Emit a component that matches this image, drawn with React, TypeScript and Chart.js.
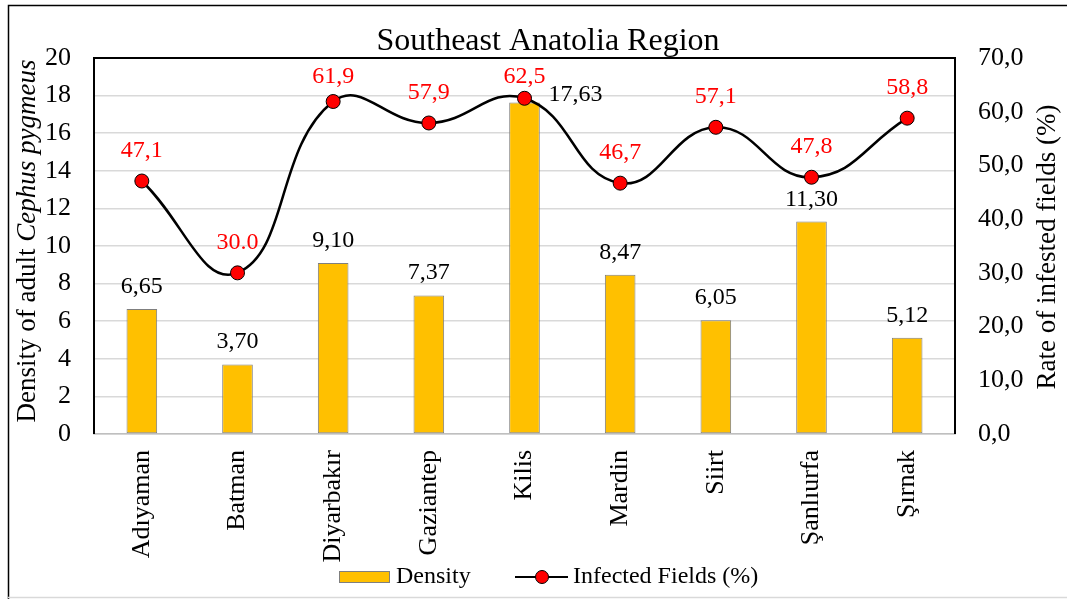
import React, { useEffect, useRef } from "react";
import { Chart, registerables } from "chart.js";

Chart.register(...registerables);

const categories = ["Adıyaman", "Batman", "Diyarbakır", "Gaziantep", "Kilis", "Mardin", "Siirt", "Şanlıurfa", "Şırnak"];
const density = [6.65, 3.7, 9.1, 7.37, 17.63, 8.47, 6.05, 11.3, 5.12];
const densityLabels = ["6,65", "3,70", "9,10", "7,37", "17,63", "8,47", "6,05", "11,30", "5,12"];
const infected = [47.1, 30.0, 61.9, 57.9, 62.5, 46.7, 57.1, 47.8, 58.8];
const infectedLabels = ["47,1", "30.0", "61,9", "57,9", "62,5", "46,7", "57,1", "47,8", "58,8"];
const leftTicksMax = 20;
const rightTicksMax = 70;

const FONT = "'Liberation Serif', 'Times New Roman', serif";

const decorPlugin = {
  id: "decor",
  afterDraw(chart: any) {
    const ctx = chart.ctx as CanvasRenderingContext2D;
    const ca = chart.chartArea;
    ctx.save();
    // outer border
    ctx.strokeStyle = "#000";
    ctx.lineWidth = 1.5;
    ctx.beginPath();
    ctx.moveTo(8.5, 599);
    ctx.lineTo(8.5, 5.5);
    ctx.lineTo(1067, 5.5);
    ctx.stroke();
    ctx.strokeStyle = "#d9d9d9";
    ctx.beginPath();
    ctx.moveTo(8, 597.5);
    ctx.lineTo(1067, 597.5);
    ctx.stroke();

    // plot frame (top, left, right)
    ctx.strokeStyle = "#000";
    ctx.lineWidth = 2;
    ctx.beginPath();
    ctx.moveTo(ca.left, ca.bottom);
    ctx.lineTo(ca.left, ca.top);
    ctx.lineTo(ca.right, ca.top);
    ctx.lineTo(ca.right, ca.bottom);
    ctx.stroke();

    // title
    ctx.fillStyle = "#000";
    ctx.font = `32px ${FONT}`;
    ctx.textAlign = "center";
    ctx.textBaseline = "alphabetic";
    ctx.fillText("Southeast Anatolia Region", 548, 50);

    // data labels
    const barMeta = chart.getDatasetMeta(1);
    const lineMeta = chart.getDatasetMeta(0);
    ctx.font = `24px ${FONT}`;
    barMeta.data.forEach((bar: any, i: number) => {
      const pt = lineMeta.data[i];
      ctx.fillStyle = "#000";
      if (Math.abs(pt.y - bar.y) < 30) {
        ctx.textAlign = "left";
        ctx.fillText(densityLabels[i], bar.x + 24, bar.y - 2);
      } else {
        ctx.textAlign = "center";
        ctx.fillText(densityLabels[i], bar.x, bar.y - 16);
      }
    });
    lineMeta.data.forEach((pt: any, i: number) => {
      ctx.fillStyle = "#ff0000";
      ctx.textAlign = "center";
      const centerY = Math.max(pt.y - 32, ca.top + 17);
      ctx.fillText(infectedLabels[i], pt.x, centerY + 8);
    });

    // left axis title (mixed style)
    ctx.fillStyle = "#000";
    ctx.textBaseline = "middle";
    ctx.save();
    ctx.translate(28, 241);
    ctx.rotate(-Math.PI / 2);
    const part1 = "Density of adult ";
    const part2 = "Cephus pygmeus";
    ctx.font = `27px ${FONT}`;
    const w1 = ctx.measureText(part1).width;
    ctx.font = `italic 27px ${FONT}`;
    const w2 = ctx.measureText(part2).width;
    const start = -(w1 + w2) / 2;
    ctx.textAlign = "left";
    ctx.font = `27px ${FONT}`;
    ctx.fillText(part1, start, 0);
    ctx.font = `italic 27px ${FONT}`;
    ctx.fillText(part2, start + w1, 0);
    ctx.restore();

    // right axis title
    ctx.save();
    ctx.translate(1048, 247);
    ctx.rotate(-Math.PI / 2);
    ctx.textAlign = "center";
    ctx.font = `27px ${FONT}`;
    ctx.fillText("Rate of infested fields (%)", 0, 0);
    ctx.restore();

    // legend
    const ly = 577;
    ctx.fillStyle = "#ffc000";
    ctx.strokeStyle = "#7f7f7f";
    ctx.lineWidth = 1;
    ctx.fillRect(339, ly - 6, 51, 12);
    ctx.strokeRect(339.5, ly - 5.5, 50, 11);
    ctx.fillStyle = "#000";
    ctx.textAlign = "left";
    ctx.font = `24px ${FONT}`;
    ctx.fillText("Density", 396, ly);
    ctx.strokeStyle = "#000";
    ctx.lineWidth = 2;
    ctx.beginPath();
    ctx.moveTo(515, ly);
    ctx.lineTo(568, ly);
    ctx.stroke();
    ctx.beginPath();
    ctx.arc(542, ly, 6.5, 0, Math.PI * 2);
    ctx.fillStyle = "#ff0000";
    ctx.fill();
    ctx.lineWidth = 1;
    ctx.stroke();
    ctx.fillStyle = "#000";
    ctx.fillText("Infected Fields (%)", 573, ly);
    ctx.restore();
  },
};

export default function App() {
  const ref = useRef<HTMLCanvasElement>(null);
  useEffect(() => {
    document.body.style.margin = "0";
    const chart = new Chart(ref.current as HTMLCanvasElement, {
      type: "bar",
      data: {
        labels: categories,
        datasets: [
          {
            type: "line",
            label: "Infected Fields (%)",
            data: infected,
            yAxisID: "y1",
            borderColor: "#000",
            borderWidth: 2.5,
            backgroundColor: "#ff0000",
            pointBackgroundColor: "#ff0000",
            pointBorderColor: "#000",
            pointBorderWidth: 1,
            pointRadius: 7,
            tension: 0.45,
            order: 0,
            clip: false,
          } as any,
          {
            type: "bar",
            label: "Density",
            data: density,
            yAxisID: "y",
            backgroundColor: "#ffc000",
            borderColor: "#7f7f7f",
            borderWidth: 1,
            borderSkipped: false,
            categoryPercentage: 1,
            barPercentage: 0.32,
            order: 1,
          } as any,
        ],
      },
      options: {
        responsive: false,
        animation: false,
        layout: { padding: { top: 58, left: 0, right: 0, bottom: 0 } },
        plugins: { legend: { display: false }, title: { display: false }, tooltip: { enabled: false } },
        scales: {
          x: {
            grid: { display: false, drawTicks: false },
            border: { color: "#bfbfbf", width: 1.5 },
            ticks: { font: { family: FONT, size: 26 }, color: "#000", maxRotation: 90, minRotation: 90, padding: 16, autoSkip: false },
            afterFit: (s: any) => { s.height = 165; },
          },
          y: {
            position: "left",
            min: 0,
            max: leftTicksMax,
            ticks: { stepSize: 2, font: { family: FONT, size: 26 }, color: "#000", padding: 23 },
            grid: { color: "#d9d9d9", lineWidth: 1.5, drawTicks: false },
            border: { display: false },
            afterFit: (s: any) => { s.width = 94; },
          },
          y1: {
            position: "right",
            min: 0,
            max: rightTicksMax,
            ticks: {
              stepSize: 10,
              font: { family: FONT, size: 26 },
              color: "#000",
              padding: 23,
              callback: (v: any) => Number(v).toFixed(1).replace(".", ","),
            },
            grid: { drawOnChartArea: false, drawTicks: false },
            border: { display: false },
            afterFit: (s: any) => { s.width = 112; },
          },
        },
      } as any,
      plugins: [decorPlugin],
    });
    return () => chart.destroy();
  }, []);
  return (
    <div style={{ width: 1067, height: 599, background: "#fff" }}>
      <canvas ref={ref} width={1067} height={599} style={{ display: "block" }} />
    </div>
  );
}
